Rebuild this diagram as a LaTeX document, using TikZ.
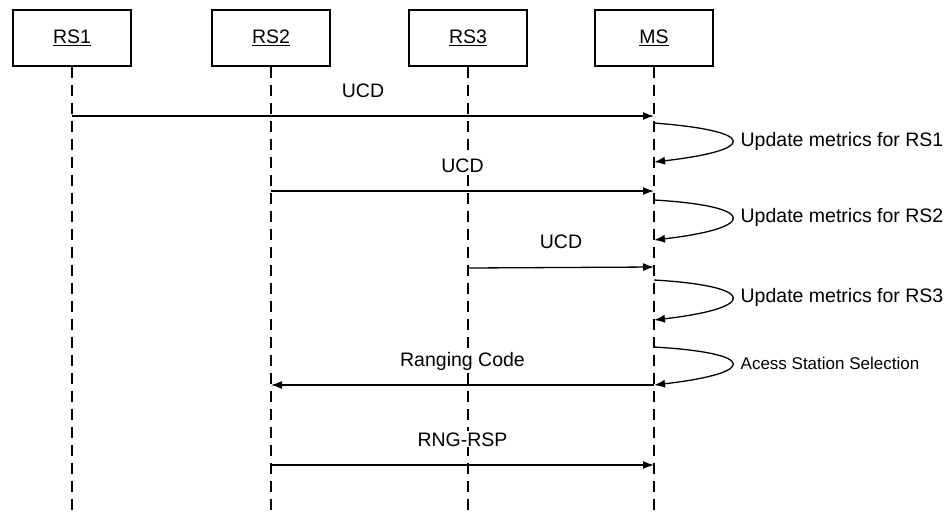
\documentclass[tikz,border=0pt]{standalone}
\usepackage{fontspec}
\setmainfont{Liberation Sans}
\usetikzlibrary{arrows.meta}

\begin{document}
\begin{tikzpicture}[x=1pt,y=-1pt,
		entity/.style={draw, line width=1.2pt, minimum width=118pt, minimum height=56pt, font=\fontsize{19.5}{21}\selectfont},
		life/.style={line width=1.5pt, dash pattern=on 11pt off 7pt},
		msg/.style={line width=1.3pt, -{Latex[length=11pt,width=8pt]}},
		lbl/.style={inner sep=1pt, fill=white, font=\fontsize{19.5}{21}\selectfont}]
				\useasboundingbox (0,0) rectangle (949,515);
				\node[entity] (rs1) at (72,38) {\underline{RS1}};
				\node[entity] (rs2) at (271,38) {\underline{RS2}};
				\node[entity] (rs3) at (468,38) {\underline{RS3}};
				\node[entity] (ms) at (654,38) {\underline{MS}};
				\foreach \n in {rs1,rs2,rs3,ms}{
					\coordinate (\n end) at (\n |- 0,515);
					\draw[life] (\n) -- (\n end);
				}
				\draw[msg] (rs1 |- 0,116) -- node[lbl, anchor=base, yshift=19pt]{UCD} (ms |- 0,116);
				\draw[msg] (ms |- 0,123) .. controls +(104,8) and +(104,-12) .. node[lbl, anchor=west, xshift=7pt]{Update metrics for RS1} (ms |- 0,162);
				\draw[msg] (rs2 |- 0,191) -- node[lbl, anchor=base, yshift=19pt]{UCD} (ms |- 0,191);
				\draw[msg] (ms |- 0,200) .. controls +(104,6) and +(104,-12) .. node[lbl, anchor=west, xshift=7pt]{Update metrics for RS2} (ms |- 0,240);
				\draw[msg] (rs3 |- 0,268) -- node[lbl, anchor=base, yshift=19pt]{UCD} (ms |- 0,267);
				\draw[msg] (ms |- 0,280) .. controls +(104,6) and +(104,-12) .. node[lbl, anchor=west, xshift=7pt]{Update metrics for RS3} (ms |- 0,320);
				\draw[msg] (ms |- 0,347) .. controls +(104,6) and +(104,-12) .. node[lbl, anchor=west, xshift=7pt, font=\fontsize{17}{19}\selectfont]{Acess Station Selection} (ms |- 0,385);
				\draw[msg] (ms |- 0,385) -- node[lbl, anchor=base, yshift=19pt]{Ranging Code} (rs2 |- 0,385);
				\draw[msg] (rs2 |- 0,465) -- node[lbl, anchor=base, yshift=19pt]{RNG-RSP} (ms |- 0,465);
			\end{tikzpicture}
\end{document}
